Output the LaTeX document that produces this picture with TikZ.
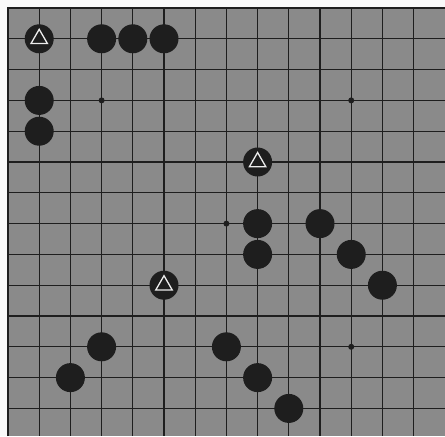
\documentclass[tikz,border=0pt]{standalone}
\usetikzlibrary{shapes.geometric}
\definecolor{boardgray}{RGB}{138,138,138}
\definecolor{ink}{RGB}{30,30,30}
\tikzset{
  stone/.style={circle, fill=ink, inner sep=0pt, minimum size=29pt},
  tri/.style={regular polygon, regular polygon sides=3, draw=white!85!gray, line width=1.3pt, inner sep=0pt, minimum size=19pt},
  hoshi/.style={circle, fill=ink, inner sep=0pt, minimum size=6pt},
  gridline/.style={draw=ink, line width=1.1pt},
}
\begin{document}
\begin{tikzpicture}[x=31.2pt, y=-30.8pt]
\useasboundingbox (-0.2564,-0.2597) rectangle (14.006,13.896);
\fill[white!95!gray] (-0.2564,-0.2597) rectangle (14.006,13.896);
\fill[boardgray] (-0.03,-0.03) rectangle (14.006,13.896);
% grid
\foreach \k in {0,...,13} {
  \draw[gridline] (\k,-0.02) -- (\k,13.896);
  \draw[gridline] (-0.02,\k) -- (14.006,\k);
}
\draw[ink, line width=1.8pt] (0,13.896) -- (0,0) -- (14.006,0);
% star points
\node[hoshi] (h1) at (3,3) {};
\node[hoshi] (h2) at (11,3) {};
\node[hoshi] (h3) at (7,7) {};
\node[hoshi] (h4) at (11,11) {};
% stones
\node[stone] (t1) at (1,1) {};
\node[stone] (s1) at (3,1) {};
\node[stone] (s2) at (4,1) {};
\node[stone] (s3) at (5,1) {};
\node[stone] (s4) at (1,3) {};
\node[stone] (s5) at (1,4) {};
\node[stone] (t2) at (8,5) {};
\node[stone] (s6) at (8,7) {};
\node[stone] (s7) at (8,8) {};
\node[stone] (s8) at (10,7) {};
\node[stone] (s9) at (11,8) {};
\node[stone] (s10) at (12,9) {};
\node[stone] (t3) at (5,9) {};
\node[stone] (s11) at (3,11) {};
\node[stone] (s12) at (7,11) {};
\node[stone] (s13) at (2,12) {};
\node[stone] (s14) at (8,12) {};
\node[stone] (s15) at (9,13) {};
% triangle marks
\node[tri] (m1) at (t1) {};
\node[tri] (m2) at (t2) {};
\node[tri] (m3) at (t3) {};
\end{tikzpicture}
\end{document}
